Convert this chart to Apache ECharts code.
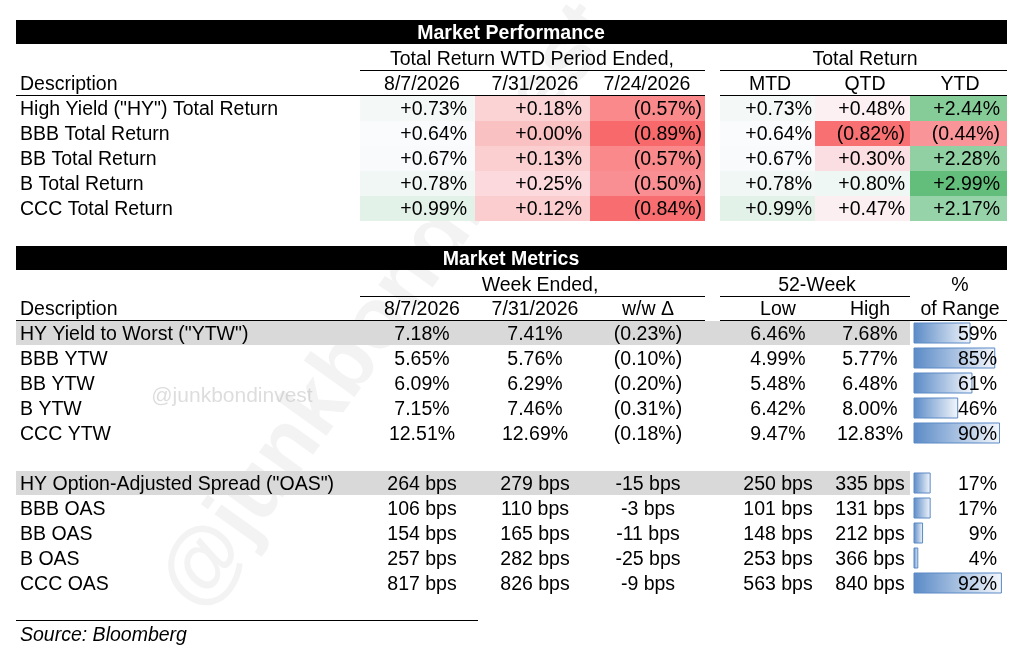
<!DOCTYPE html>
<html><head><meta charset="utf-8">
<script src="https://cdn.jsdelivr.net/npm/echarts@6/dist/echarts.min.js"></script>
<style>html,body{margin:0;padding:0;background:#fff}#c{width:1023px;height:650px}</style>
</head><body><div id="c"></div>
<script>
// ---- data ----
const perfNames = ['High Yield ("HY") Total Return','BBB Total Return','BB Total Return','B Total Return','CCC Total Return'];
const wtdHeaders = ['8/7/2026','7/31/2026','7/24/2026'];
const trHeaders = ['MTD','QTD','YTD'];
const wtd0 = [0.73,0.64,0.67,0.78,0.99];
const wtd1 = [0.18,0.00,0.13,0.25,0.12];
const wtd2 = [-0.57,-0.89,-0.57,-0.50,-0.84];
const mtd = [0.73,0.64,0.67,0.78,0.99];
const qtd = [0.48,-0.82,0.30,0.80,0.47];
const ytd = [2.44,-0.44,2.28,2.99,2.17];

const ytwNames = ['HY Yield to Worst ("YTW")','BBB YTW','BB YTW','B YTW','CCC YTW'];
const ytwCur = [7.18,5.65,6.09,7.15,12.51];
const ytwPrev = [7.41,5.76,6.29,7.46,12.69];
const ytwDelta = [-0.23,-0.10,-0.20,-0.31,-0.18];
const ytwLow = [6.46,4.99,5.48,6.42,9.47];
const ytwHigh = [7.68,5.77,6.48,8.00,12.83];
const ytwRange = [59,85,61,46,90];

const oasNames = ['HY Option-Adjusted Spread ("OAS")','BBB OAS','BB OAS','B OAS','CCC OAS'];
const oasCur = [264,106,154,257,817];
const oasPrev = [279,110,165,282,826];
const oasDelta = [-15,-3,-11,-25,-9];
const oasLow = [250,101,148,253,563];
const oasHigh = [335,131,212,366,840];
const oasRange = [17,17,9,4,92];

// ---- helpers ----
const F = "'Liberation Sans', Arial, sans-serif";
const FS = 19.5, DY = 1.5;
const rects = [], texts = [], bars = [];
function R(x1,y1,x2,y2,c){rects.push({x1,y1,x2,y2,c});}
function T(t,x,y,o){texts.push(Object.assign({t,x,y:y+DY,align:'left',color:'#000',size:FS,weight:'normal',style:'normal'},o||{}));}
function pct(v){return v<0?'('+Math.abs(v).toFixed(2)+'%)':'+'+v.toFixed(2)+'%';}
function pct2(v){return v<0?'('+Math.abs(v).toFixed(2)+'%)':v.toFixed(2)+'%';}
function mix(a,b,t){const p=s=>[1,3,5].map(i=>parseInt(s.substr(i,2),16));const A=p(a),B=p(b);return 'rgb('+A.map((v,i)=>Math.round(v+(B[i]-v)*t)).join(',')+')';}
function heat(v){const mn=-0.89,md=0.6,mx=2.99;if(v<md)return mix('#fcfcff','#f8696b',Math.min(1,(md-v)/(md-mn)));return mix('#fcfcff','#63be7b',Math.min(1,(v-md)/(mx-md)));}

// ---- section 1 ----
R(16,20,1007,44,'#000');
T('Market Performance',511,32,{align:'center',color:'#fff',weight:'bold'});
T('Total Return WTD Period Ended,',532,58,{align:'center'});
T('Total Return',865,58,{align:'center'});
R(360,70,705,71,'#000');R(720,70,1007,71,'#000');
T('Description',20,83);
const hx=[422,535,647,770,865,960];
wtdHeaders.concat(trHeaders).forEach((h,i)=>T(h,hx[i],83,{align:'center'}));
R(16,95,705,96,'#000');R(720,95,1007,96,'#000');
const colsX=[[360,475],[475,590],[590,705],[720,815],[815,910],[910,1007]];
const colR=[467,582,702,812,905,1000];
const cols=[wtd0,wtd1,wtd2,mtd,qtd,ytd];
perfNames.forEach((n,i)=>{
  const y=108+25*i;
  T(n,20,y);
  cols.forEach((arr,j)=>{R(colsX[j][0],y-12,colsX[j][1],y+13,heat(arr[i]));T(pct(arr[i]),colR[j],y,{align:'right'});});
});

// ---- section 2 ----
R(16,246,1007,270,'#000');
T('Market Metrics',511,258,{align:'center',color:'#fff',weight:'bold'});
T('Week Ended,',540,284,{align:'center'});
T('52-Week',817,284,{align:'center'});
T('%',960,284,{align:'center'});
R(360,296,705,297,'#000');R(720,296,910,297,'#000');
T('Description',20,308);
const mx=[422,535,648,778,870];
['8/7/2026','7/31/2026','w/w \u0394','Low','High'].forEach((h,i)=>T(h,mx[i],308,{align:'center'}));
T('of Range',960,308,{align:'center'});
R(16,320,705,321,'#000');R(720,320,1007,321,'#000');
function block(names,cur,prev,delta,low,high,rng,y0,fmt,fd){
  names.forEach((n,i)=>{
    const y=y0+25*i;
    if(i===0)R(16,y-12,910,y+12,'#d9d9d9');
    T(n,20,y);
    [fmt(cur[i]),fmt(prev[i]),fd(delta[i]),fmt(low[i]),fmt(high[i])].forEach((s,j)=>T(s,mx[j],y,{align:'center'}));
    bars.push({x1:914,x2:914+95*rng[i]/100,y1:y-10,y2:y+10});
    T(rng[i]+'%',997,y,{align:'right'});
  });
}
block(ytwNames,ytwCur,ytwPrev,ytwDelta,ytwLow,ytwHigh,ytwRange,333,v=>v.toFixed(2)+'%',pct2);
block(oasNames,oasCur,oasPrev,oasDelta,oasLow,oasHigh,oasRange,483,v=>v+' bps',v=>v+' bps');

R(16,620,478,621,'#000');
T('Source: Bloomberg',20,634,{style:'italic'});

// watermark
T('@junkbondinvest',232,395,{align:'center',color:'rgba(180,180,180,0.45)',size:21});

const chart=echarts.init(document.getElementById('c'));
chart.setOption({
  animation:false,
  grid:{left:0,right:0,top:0,bottom:0},
  xAxis:{type:'value',min:0,max:1023,show:false},
  yAxis:{type:'value',min:0,max:650,inverse:true,show:false},
  series:[
    {type:'custom',z:1,data:rects.map((r,i)=>[i]),renderItem:(p,api)=>{const r=rects[api.value(0)];const a=api.coord([r.x1,r.y1]),b=api.coord([r.x2,r.y2]);return{type:'rect',shape:{x:a[0],y:a[1],width:b[0]-a[0],height:b[1]-a[1]},style:{fill:r.c}};}},
    {type:'custom',z:2,data:bars.map((r,i)=>[i]),renderItem:(p,api)=>{const r=bars[api.value(0)];const a=api.coord([r.x1,r.y1]),b=api.coord([r.x2,r.y2]);return{type:'rect',shape:{x:a[0],y:a[1],width:b[0]-a[0],height:b[1]-a[1]},style:{fill:new echarts.graphic.LinearGradient(0,0,1,0,[{offset:0,color:'#5a8ac6'},{offset:1,color:'#f4f7fc'}]),stroke:'#5a8ac6',lineWidth:1}};}},
    {type:'custom',z:3,data:texts.map((r,i)=>[i]),renderItem:(p,api)=>{const t=texts[api.value(0)];const a=api.coord([t.x,t.y]);return{type:'text',x:a[0],y:a[1],style:{text:t.t,fill:t.color,align:t.align,verticalAlign:'middle',font:t.style+' '+t.weight+' '+t.size+'px '+F}};}}
  ],
  graphic:[{type:'text',x:215,y:625,rotation:0.95,z:-1,silent:true,
    style:{text:'@junkbondinvest',font:'bold 86px '+F,fill:'rgba(190,190,190,0.18)',verticalAlign:'bottom'}}]
});
</script></body></html>
